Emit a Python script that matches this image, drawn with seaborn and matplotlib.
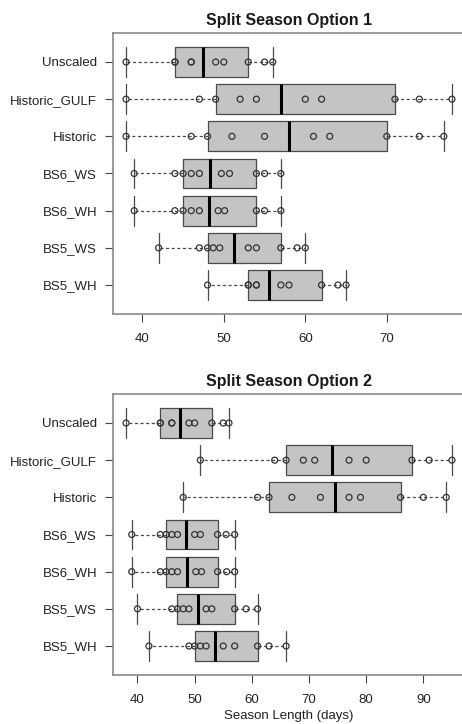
import matplotlib
matplotlib.use('Agg')
import matplotlib.pyplot as plt
import numpy as np
import pandas as pd
import seaborn as sns

# ordem das categorias (de cima para baixo)
scenarios = ['Unscaled', 'Historic_GULF', 'Historic', 'BS6_WS', 'BS6_WH', 'BS5_WS', 'BS5_WH']

# Split Season Option 1 - season length (days)
opt1_unscaled = [38, 44, 44, 46, 46, 49, 50, 53, 55, 56]
opt1_historic_gulf = [38, 47, 49, 52, 54, 60, 62, 71, 74, 78]
opt1_historic = [38, 46, 48, 51, 55, 61, 63, 70, 74, 77]
opt1_bs6_ws = [39, 44, 45, 46, 47, 49.7, 50.7, 54, 55, 57]
opt1_bs6_wh = [39, 44, 45, 46, 47, 49.3, 50.1, 54, 55, 57]
opt1_bs5_ws = [42, 47, 48, 48.7, 49.5, 53, 54, 57, 59, 60]
opt1_bs5_wh = [48, 53, 53, 54, 54, 57, 58, 62, 64, 65]

# Split Season Option 2
opt2_unscaled = [38, 44, 44, 46, 46, 49, 50, 53, 55, 56]
opt2_historic_gulf = [51, 64, 66, 69, 71, 77, 80, 88, 91, 95]
opt2_historic = [48, 61, 63, 67, 72, 77, 79, 86, 90, 94]
opt2_bs6_ws = [39, 44, 45, 46, 47, 50, 51, 54, 55.5, 57]
opt2_bs6_wh = [39, 44, 45, 46, 47, 50.2, 51.2, 54, 55.6, 57]
opt2_bs5_ws = [40, 46, 47, 48, 49, 52, 53, 57, 59, 61]
opt2_bs5_wh = [42, 49, 50, 51, 52, 55, 57, 61, 63, 66]

option1 = [opt1_unscaled, opt1_historic_gulf, opt1_historic, opt1_bs6_ws,
           opt1_bs6_wh, opt1_bs5_ws, opt1_bs5_wh]
option2 = [opt2_unscaled, opt2_historic_gulf, opt2_historic, opt2_bs6_ws,
           opt2_bs6_wh, opt2_bs5_ws, opt2_bs5_wh]

titles = ['Split Season Option 1', 'Split Season Option 2']
xticks1 = [40, 50, 60, 70]
xticks2 = [40, 50, 60, 70, 80, 90]


def fivenum(v):
    # hinges de Tukey (igual ao boxplot do R)
    v = np.sort(np.asarray(v, dtype=float))
    n = len(v)
    n4 = np.floor((n + 3) / 2) / 2
    d = np.array([1, n4, (n + 1) / 2, n + 1 - n4, n]) - 1
    return 0.5 * (v[np.floor(d).astype(int)] + v[np.ceil(d).astype(int)])


def draw_panel(ax, groups, title, xticks):
    df = pd.DataFrame({
        'scenario': np.repeat(scenarios, [len(g) for g in groups]),
        'days': np.concatenate(groups),
    })

    # pontos individuais (círculos vazados)
    sns.stripplot(data=df, x='days', y='scenario', order=scenarios, jitter=False,
                  size=4.3, color='#333333', edgecolor='#333333', linewidth=0.9,
                  zorder=4, ax=ax)
    for coll in ax.collections:
        coll.set_facecolor('none')

    stats = []
    for g in groups:
        lo, q1, med, q3, hi = fivenum(g)
        stats.append(dict(whislo=lo, q1=q1, med=med, q3=q3, whishi=hi, fliers=[]))

    ax.bxp(stats, positions=range(len(scenarios)), widths=0.8, capwidths=0.8,
           orientation='horizontal', patch_artist=True, showfliers=False,
           manage_ticks=False,
           boxprops=dict(facecolor='#c4c4c4', edgecolor='#4a4a4a', linewidth=0.9),
           whiskerprops=dict(color='#4a4a4a', linewidth=0.9, linestyle=(0, (2.5, 2))),
           capprops=dict(color='#4a4a4a', linewidth=0.9),
           medianprops=dict(color='black', linewidth=2.2))

    vals = np.concatenate(groups)
    span = vals.max() - vals.min()
    ax.set_xlim(vals.min() - 0.04 * span, vals.max() + 0.04 * span)
    ax.set_ylim(len(scenarios) - 1 + 0.78, -0.78)
    ax.set_xticks(xticks)
    ax.set_xticklabels([str(t) for t in xticks])
    ax.set_ylabel('')
    ax.set_xlabel('')
    ax.set_title(title, fontsize=11.5, fontweight='bold', pad=6, color='#1a1a1a')
    for s in ax.spines.values():
        s.set_color('#8a8a8a')
        s.set_linewidth(1.2)
    ax.spines['right'].set_visible(False)  # fica cortado na imagem original
    ax.tick_params(axis='both', bottom=True, left=True, length=5.5, width=0.8,
                   color='#444444', labelsize=9.5, labelcolor='#222222')
    ax.tick_params(axis='y', pad=6)
    ax.tick_params(axis='x', pad=8)


sns.set_theme(style='white')
plt.rcParams['font.family'] = ['Liberation Sans', 'DejaVu Sans']

fig = plt.figure(figsize=(4.62, 7.24), dpi=100)
ax1 = fig.add_axes([113 / 462, 1 - 314 / 724, 352 / 462, 281 / 724])
ax2 = fig.add_axes([113 / 462, 1 - 675 / 724, 352 / 462, 281 / 724])

draw_panel(ax1, option1, titles[0], xticks1)
draw_panel(ax2, option2, titles[1], xticks2)
ax2.set_xlabel('Season Length (days)', fontsize=9.5, labelpad=3, color='#222222')

fig.savefig('out.png', dpi=100)
